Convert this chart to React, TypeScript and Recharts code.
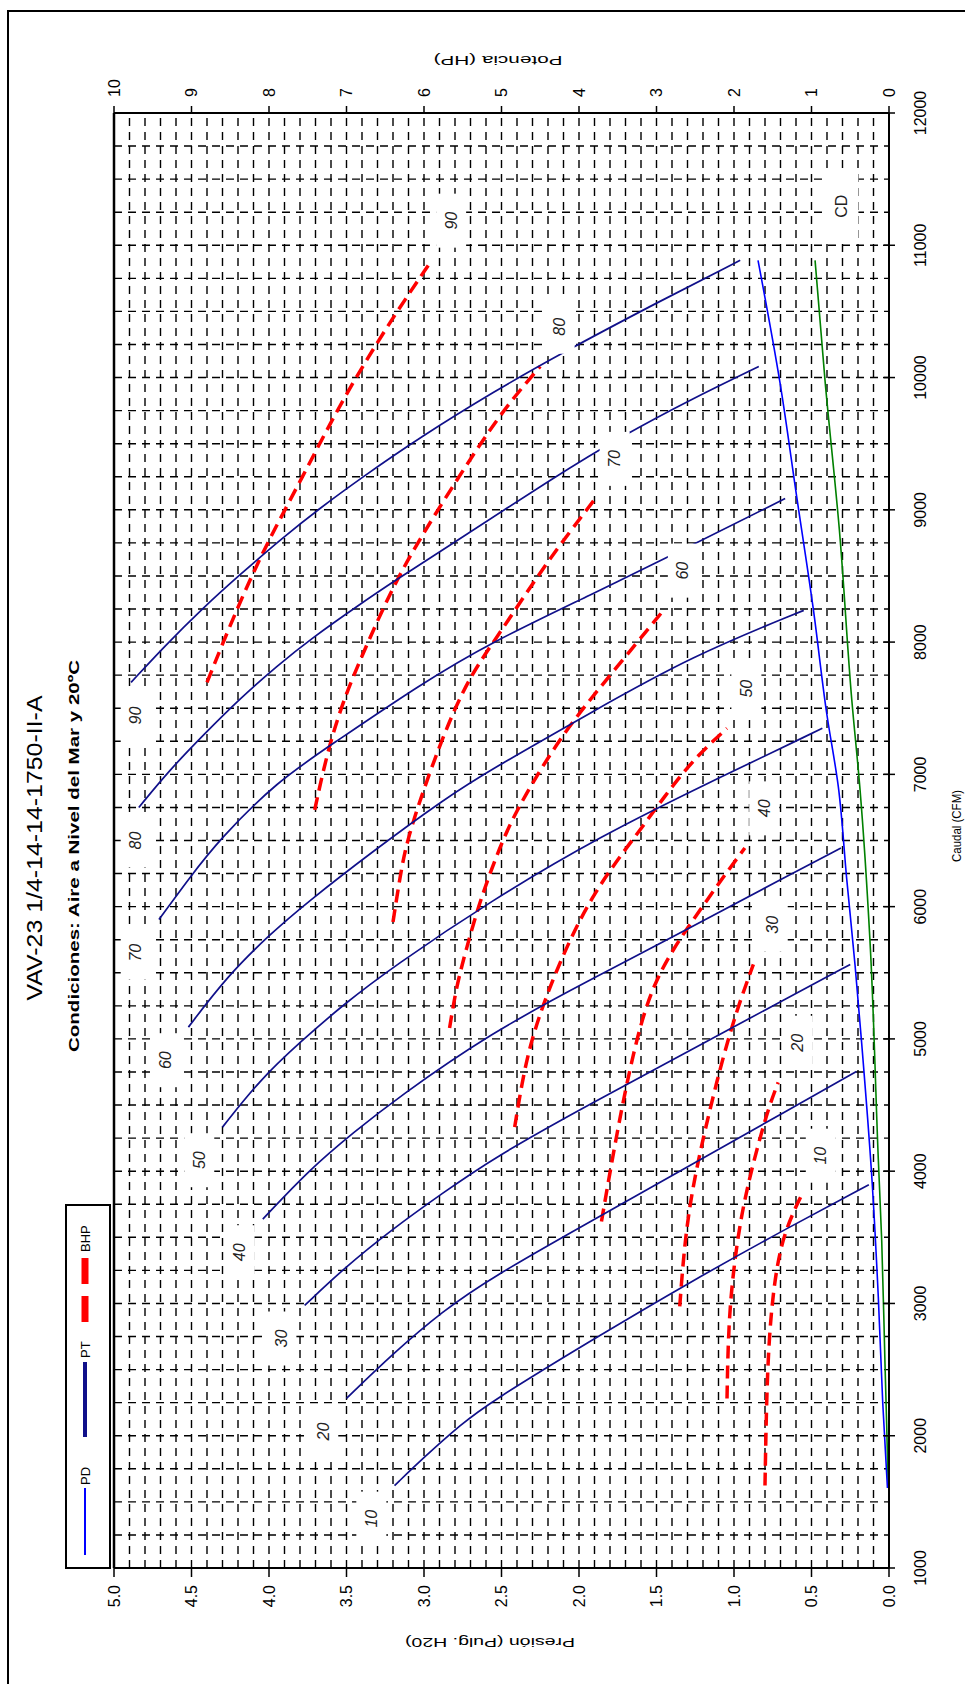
import React from "react";
import {
  CartesianGrid,
  Line,
  LineChart,
  ReferenceDot,
  ReferenceLine,
  XAxis,
  YAxis,
} from "recharts";

type Pt = [number, number];

// curve labels (same for PT and BHP families)
const speeds = ["10", "20", "30", "40", "50", "60", "70", "80", "90"];

// PT - total pressure, [CFM, Pulg. H2O]
const pt10: Pt[] = [[1623, 3.19], [1837, 3.0], [2087, 2.76], [2248, 2.58], [2715, 1.93], [3165, 1.28], [3580, 0.64], [3898, 0.13]];
const pt20: Pt[] = [[2282, 3.5], [2621, 3.2], [2942, 2.88], [3192, 2.57], [3618, 1.93], [4044, 1.28], [4470, 0.64], [4754, 0.21]];
const pt30: Pt[] = [[2985, 3.77], [3263, 3.52], [3566, 3.2], [3834, 2.88], [4102, 2.55], [4508, 1.93], [4914, 1.28], [5320, 0.64], [5563, 0.25]];
const pt40: Pt[] = [[3637, 4.04], [4012, 3.74], [4297, 3.45], [4547, 3.18], [5046, 2.57], [5445, 1.93], [5842, 1.28], [6241, 0.64], [6443, 0.31]];
const pt50: Pt[] = [[4333, 4.3], [4689, 4.06], [4975, 3.8], [5260, 3.52], [5545, 3.2], [6044, 2.57], [6540, 1.85], [6927, 1.18], [7348, 0.43]];
const pt60: Pt[] = [[5089, 4.52], [5474, 4.27], [5795, 3.99], [6027, 3.76], [6419, 3.33], [6821, 2.86], [7035, 2.57], [7463, 1.93], [7890, 1.28], [8240, 0.55]];
const pt70: Pt[] = [[5902, 4.71], [6223, 4.51], [6507, 4.32], [6945, 3.95], [7230, 3.59], [7676, 3.03], [7997, 2.57], [8354, 1.93], [8728, 1.28], [9085, 0.67]];
const pt80: Pt[] = [[6750, 4.84], [7035, 4.64], [7302, 4.42], [7570, 4.19], [7819, 3.95], [8033, 3.72], [8265, 3.44], [8479, 3.17], [8657, 2.93], [9263, 2.14], [9566, 1.71], [9834, 1.28], [10084, 0.84]];
const pt90: Pt[] = [[7695, 4.89], [7962, 4.68], [8265, 4.42], [8497, 4.2], [8782, 3.92], [9014, 3.67], [9245, 3.4], [9545, 3.03], [9900, 2.54], [10173, 2.13], [10565, 1.5], [10886, 0.96]];

// BHP - brake horsepower, [CFM, HP]
const bhp10: Pt[] = [[1623, 1.6], [2300, 1.58], [2835, 1.54], [3299, 1.45], [3584, 1.32], [3817, 1.13]];
const bhp20: Pt[] = [[2282, 2.09], [2907, 2.07], [3442, 1.97], [3869, 1.84], [4440, 1.58], [4671, 1.43]];
const bhp30: Pt[] = [[2978, 2.7], [3370, 2.65], [3763, 2.57], [4262, 2.4], [5082, 2.05], [5563, 1.75]];
const bhp40: Pt[] = [[3620, 3.71], [4297, 3.51], [4903, 3.3], [5367, 3.08], [5688, 2.78], [5938, 2.48], [6223, 2.14], [6443, 1.86]];
const bhp50: Pt[] = [[4333, 4.83], [4725, 4.72], [5046, 4.59], [5474, 4.33], [6080, 3.86], [6579, 3.21], [6856, 2.87], [7141, 2.48], [7348, 2.09]];
const bhp60: Pt[] = [[5082, 5.67], [5403, 5.58], [5688, 5.45], [6044, 5.28], [6520, 4.98], [6821, 4.72], [7320, 4.2], [7748, 3.6], [8240, 2.91]];
const bhp70: Pt[] = [[5884, 6.4], [6223, 6.31], [6508, 6.22], [7035, 5.92], [7676, 5.49], [8033, 5.06], [8603, 4.42], [9085, 3.79]];
const bhp80: Pt[] = [[6731, 7.41], [7141, 7.26], [7570, 7.04], [8033, 6.7], [8532, 6.31], [9031, 5.79], [9531, 5.24], [9816, 4.89], [10084, 4.5]];
const bhp90: Pt[] = [[7695, 8.8], [8247, 8.42], [8746, 8.03], [9210, 7.6], [9851, 7.04], [10458, 6.4], [10886, 5.9]];

// PD - dynamic pressure, CD - green curve
const pd: Pt[] = [[1605, 0.01], [2240, 0.04], [3049, 0.069], [3975, 0.112], [4978, 0.177], [5557, 0.219], [6212, 0.273], [6907, 0.327], [7462, 0.402], [8247, 0.488], [9103, 0.596], [9959, 0.703], [10886, 0.845]];
const cd: Pt[] = [[1605, 0.005], [2085, 0.015], [2550, 0.026], [3474, 0.047], [4091, 0.069], [5749, 0.123], [6887, 0.187], [7562, 0.24], [8846, 0.32], [9981, 0.413], [10886, 0.477]];

const ptCurves = [pt10, pt20, pt30, pt40, pt50, pt60, pt70, pt80, pt90];
const bhpCurves = [bhp10, bhp20, bhp30, bhp40, bhp50, bhp60, bhp70, bhp80, bhp90];

// axes
const cfmMajor = [1000, 2000, 3000, 4000, 5000, 6000, 7000, 8000, 9000, 10000, 11000, 12000];
const presLabels = ["0.0", "0.5", "1.0", "1.5", "2.0", "2.5", "3.0", "3.5", "4.0", "4.5", "5.0"];
const hpTicks = [0, 1, 2, 3, 4, 5, 6, 7, 8, 9, 10];

const cfmGrid: number[] = [];
for (let v = 1000; v <= 12000; v += 250) cfmGrid.push(v);
const presGrid: number[] = [];
for (let i = 0; i <= 50; i++) presGrid.push(i / 10);

const W = 1684;
const H = 965;
const FONT = '"Liberation Sans", Arial, Helvetica, sans-serif';

const rows = (pts: Pt[]) => pts.map(([x, y]) => ({ x, y }));

function CfmTick(props: any) {
  const { x, y, payload } = props;
  if (!cfmMajor.includes(payload.value)) return <g />;
  return (
    <g>
      <line x1={x} x2={x} y1={y - 6} y2={y + 6} stroke="#000" strokeWidth={1.5} />
      <text x={x} y={y + 31} textAnchor="middle" dominantBaseline="central" fontSize={16} fill="#000">
        {payload.value}
      </text>
    </g>
  );
}

function PresTick(props: any) {
  const { x, y, payload } = props;
  const i = Math.round(payload.value * 10);
  if (i % 5 !== 0) return <g />;
  return (
    <g>
      <line x1={x - 9} x2={x} y1={y} y2={y} stroke="#000" strokeWidth={1.5} />
      <text x={x - 17} y={y} textAnchor="end" dominantBaseline="central" fontSize={16} fill="#000">
        {presLabels[i / 5]}
      </text>
    </g>
  );
}

// white boxed curve label
const tag = (text: string, w = 54, h = 30, italic = true) => (p: any) => (
  <g>
    <rect x={p.cx - w / 2} y={p.cy - h / 2} width={w} height={h} fill="#fff" />
    <text
      x={p.cx}
      y={p.cy}
      textAnchor="middle"
      dominantBaseline="central"
      fontSize={16}
      fontStyle={italic ? "italic" : "normal"}
      fill="#222"
    >
      {text}
    </text>
  </g>
);

function Chart() {
  return (
    <LineChart width={W} height={H} margin={{ top: 114, right: 43, bottom: 26, left: 46 }}>
      <CartesianGrid yAxisId="p" stroke="#000" strokeWidth={1.4} strokeDasharray="8 6" />
      <XAxis
        type="number"
        dataKey="x"
        domain={[1000, 12000]}
        ticks={cfmGrid}
        interval={0}
        tickSize={0}
        tickMargin={0}
        tickLine={false}
        tick={CfmTick}
        axisLine={{ stroke: "#000", strokeWidth: 2 }}
        height={50}
        allowDataOverflow
      />
      <YAxis
        yAxisId="p"
        type="number"
        domain={[0, 5]}
        ticks={presGrid}
        interval={0}
        tickSize={0}
        tickMargin={0}
        tickLine={false}
        tick={PresTick}
        axisLine={{ stroke: "#000", strokeWidth: 2 }}
        width={70}
        allowDataOverflow
      />
      <YAxis
        yAxisId="hp"
        orientation="right"
        type="number"
        domain={[0, 10]}
        ticks={hpTicks}
        interval={0}
        tickSize={7}
        tickMargin={9}
        tickLine={{ stroke: "#000", strokeWidth: 1.5 }}
        tick={{ fontSize: 16, fill: "#000" }}
        axisLine={{ stroke: "#000", strokeWidth: 2 }}
        width={70}
        allowDataOverflow
      />
      <ReferenceLine yAxisId="p" y={5} stroke="#000" strokeWidth={2.5} />

      <Line yAxisId="p" data={rows(cd)} dataKey="y" type="monotone" stroke="#008000" strokeWidth={1.6} dot={false} isAnimationActive={false} />
      <Line yAxisId="p" data={rows(pd)} dataKey="y" type="monotone" stroke="#0000ff" strokeWidth={1.6} dot={false} isAnimationActive={false} />
      {bhpCurves.map((c, i) => (
        <Line
          key={`bhp${i}`}
          yAxisId="hp"
          data={rows(c)}
          dataKey="y"
          type="basis"
          stroke="#ff0000"
          strokeWidth={3.5}
          strokeDasharray="13 7"
          dot={false}
          isAnimationActive={false}
        />
      ))}
      {ptCurves.map((c, i) => (
        <Line
          key={`pt${i}`}
          yAxisId="p"
          data={rows(c)}
          dataKey="y"
          type="basis"
          stroke="#10108a"
          strokeWidth={1.7}
          dot={false}
          isAnimationActive={false}
        />
      ))}

      {ptCurves.map((c, i) => (
        <ReferenceDot
          key={`ptl${i}`}
          yAxisId="p"
          x={c[0][0] - 250}
          y={Math.min(c[0][1] + 0.15, 4.86)}
          r={1}
          shape={tag(speeds[i])}
        />
      ))}
      {bhpCurves.map((c, i) => (
        <ReferenceDot
          key={`bhpl${i}`}
          yAxisId="hp"
          x={c[c.length - 1][0] + 300}
          y={c[c.length - 1][1] - 0.25}
          r={1}
          shape={tag(speeds[i])}
        />
      ))}
      <ReferenceDot yAxisId="p" x={cd[cd.length - 1][0] + 410} y={cd[cd.length - 1][1] - 0.17} r={1} shape={tag("CD", 70, 34, false)} />
    </LineChart>
  );
}

function Overlay() {
  return (
    <svg width={W} height={H} style={{ position: "absolute", left: 0, top: 0, pointerEvents: "none" }}>
      {/* page frame */}
      <polyline points={`-10,8 1673,8 1673,975`} fill="none" stroke="#000" strokeWidth={2} />

      <text x={836} y={42} textAnchor="middle" fontSize={22} textLength={305} lengthAdjust="spacingAndGlyphs">
        VAV-23 1/4-14-14-1750-II-A
      </text>
      <text x={828} y={79} textAnchor="middle" fontSize={15.5} fontWeight="bold" textLength={392} lengthAdjust="spacingAndGlyphs">
        Condiciones: Aire a Nivel del Mar y 20ºC
      </text>

      <text transform="translate(46,490) rotate(-90)" textAnchor="middle" fontSize={13} textLength={170} lengthAdjust="spacingAndGlyphs">
        Presión (Pulg. H20)
      </text>
      <text transform="translate(1628,498) rotate(-90)" textAnchor="middle" fontSize={13} textLength={129} lengthAdjust="spacingAndGlyphs">
        Potencia (HP)
      </text>
      <text x={858} y={961} textAnchor="middle" fontSize={13} textLength={72} lengthAdjust="spacingAndGlyphs">
        Caudal (CFM)
      </text>

      {/* legend */}
      <rect x={116} y={66} width={363} height={44} fill="#fff" stroke="#000" strokeWidth={2} />
      <line x1={129} x2={196} y1={85} y2={85} stroke="#0000ff" strokeWidth={2} />
      <text x={199} y={90} fontSize={13}>PD</text>
      <line x1={247} x2={322} y1={85} y2={85} stroke="#10108a" strokeWidth={4} />
      <text x={326} y={90} fontSize={13}>PT</text>
      <line x1={362} x2={426} y1={85} y2={85} stroke="#ff0000" strokeWidth={7} strokeDasharray="26 12" />
      <text x={432} y={90} fontSize={13}>BHP</text>
    </svg>
  );
}

export default function App() {
  return (
    <div style={{ position: "absolute", left: 0, top: 0, width: 965, height: 1684, overflow: "hidden", background: "#fff" }}>
      <div
        style={{
          position: "absolute",
          left: 0,
          top: 0,
          width: W,
          height: H,
          transformOrigin: "0 0",
          transform: `translateY(${W}px) rotate(-90deg)`,
          fontFamily: FONT,
        }}
      >
        <Chart />
        <Overlay />
      </div>
    </div>
  );
}
